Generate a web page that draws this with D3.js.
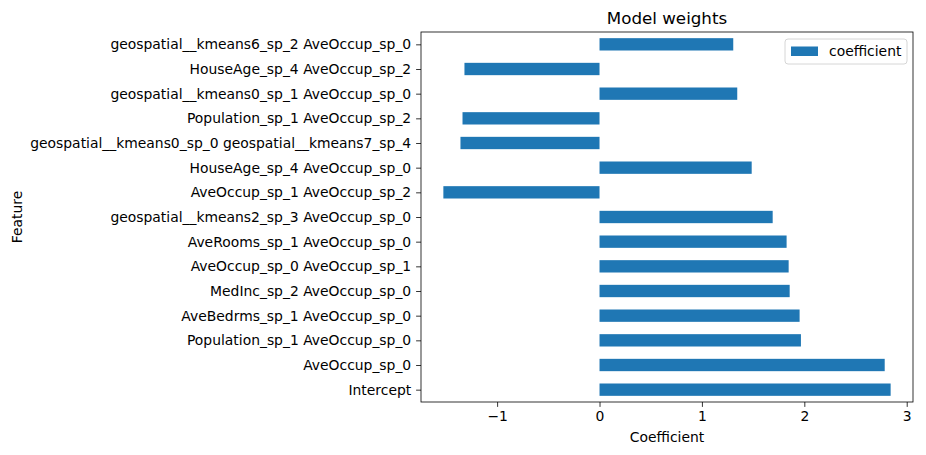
<!DOCTYPE html>
<html>
<head>
<meta charset="utf-8">
<script src="https://cdn.jsdelivr.net/npm/d3@7"></script>
<style>
  body { margin: 0; background: #fff; }
  svg { font-family: "DejaVu Sans", sans-serif; }
</style>
</head>
<body>
<svg id="chart"></svg>
<script>
// features listed bottom to top, as matplotlib draws them
const features = [
    "Intercept",
    "AveOccup_sp_0",
    "Population_sp_1 AveOccup_sp_0",
    "AveBedrms_sp_1 AveOccup_sp_0",
    "MedInc_sp_2 AveOccup_sp_0",
    "AveOccup_sp_0 AveOccup_sp_1",
    "AveRooms_sp_1 AveOccup_sp_0",
    "geospatial__kmeans2_sp_3 AveOccup_sp_0",
    "AveOccup_sp_1 AveOccup_sp_2",
    "HouseAge_sp_4 AveOccup_sp_0",
    "geospatial__kmeans0_sp_0 geospatial__kmeans7_sp_4",
    "Population_sp_1 AveOccup_sp_2",
    "geospatial__kmeans0_sp_1 AveOccup_sp_0",
    "HouseAge_sp_4 AveOccup_sp_2",
    "geospatial__kmeans6_sp_2 AveOccup_sp_0"
];
const coefficient = [2.843, 2.785, 1.967, 1.954, 1.857, 1.847, 1.827, 1.691,
    -1.525, 1.486, -1.358, -1.338, 1.345, -1.319, 1.306];
const xTicks = [-1, 0, 1, 2, 3];

const width = 926, height = 455;
const margin = { top: 32, right: 13, bottom: 53, left: 421 };
const color = "#1f77b4";

const svg = d3.select("#chart")
    .attr("width", width)
    .attr("height", height);

// matplotlib style 5% padding on the x range
const lo = d3.min(coefficient.concat([0])), hi = d3.max(coefficient.concat([0]));
const pad = (hi - lo) * 0.05;
const xScale = d3.scaleLinear()
    .domain([lo - pad, hi + pad])
    .range([margin.left, width - margin.right]);

// categories at integer positions, pandas keeps half a step each side
const n = features.length;
const yPos = d3.scaleLinear()
    .domain([-0.5, n - 0.5])
    .range([height - margin.bottom, margin.top]);
const step = Math.abs(yPos(1) - yPos(0));

// bars
svg.append("g")
    .selectAll("rect")
    .data(coefficient)
    .join("rect")
    .attr("x", d => xScale(Math.min(0, d)))
    .attr("width", d => Math.abs(xScale(d) - xScale(0)))
    .attr("y", (d, i) => yPos(i) - step * 0.25)
    .attr("height", step * 0.5)
    .attr("fill", color);

// x axis
const xAxis = d3.axisBottom(xScale)
    .tickValues(xTicks)
    .tickFormat(d => d < 0 ? "\u2212" + Math.abs(d) : d)
    .tickSize(4.9)
    .tickPadding(4);
svg.append("g")
    .attr("transform", `translate(0, ${height - margin.bottom})`)
    .call(xAxis)
    .call(g => g.select(".domain").remove())
    .call(g => g.selectAll("text").attr("font-size", 13.9).attr("fill", "#000").attr("font-family", "DejaVu Sans"))
    .call(g => g.selectAll("line").attr("stroke", "#000").attr("stroke-width", 0.8));

// y axis
const yAxis = d3.axisLeft(yPos)
    .tickValues(d3.range(n))
    .tickFormat(i => features[i])
    .tickSize(4.9)
    .tickPadding(4.9);
svg.append("g")
    .attr("transform", `translate(${margin.left}, 0)`)
    .call(yAxis)
    .call(g => g.select(".domain").remove())
    .call(g => g.selectAll("text").attr("font-size", 13.9).attr("fill", "#000").attr("font-family", "DejaVu Sans"))
    .call(g => g.selectAll("line").attr("stroke", "#000").attr("stroke-width", 0.8));

// frame
svg.append("rect")
    .attr("x", margin.left)
    .attr("y", margin.top)
    .attr("width", width - margin.right - margin.left)
    .attr("height", height - margin.bottom - margin.top)
    .attr("fill", "none")
    .attr("stroke", "#000")
    .attr("stroke-width", 0.8);

// title and labels
const cx = (margin.left + width - margin.right) / 2;
svg.append("text")
    .attr("x", cx).attr("y", 24)
    .attr("text-anchor", "middle")
    .attr("font-size", 16.7)
    .text("Model weights");

svg.append("text")
    .attr("x", cx).attr("y", 442)
    .attr("text-anchor", "middle")
    .attr("font-size", 13.9)
    .text("Coefficient");

svg.append("text")
    .attr("transform", `translate(22, ${(margin.top + height - margin.bottom) / 2}) rotate(-90)`)
    .attr("text-anchor", "middle")
    .attr("font-size", 13.9)
    .text("Feature");

// legend
const legend = svg.append("g").attr("transform", "translate(785, 39)");
legend.append("rect")
    .attr("width", 122).attr("height", 25)
    .attr("rx", 3)
    .attr("fill", "#fff")
    .attr("fill-opacity", 0.8)
    .attr("stroke", "#ccc")
    .attr("stroke-width", 0.8);
legend.append("rect")
    .attr("x", 6).attr("y", 7.5)
    .attr("width", 27).attr("height", 9.5)
    .attr("fill", color);
legend.append("text")
    .attr("x", 44).attr("y", 17)
    .attr("font-size", 13.9)
    .text("coefficient");
</script>
</body>
</html>
